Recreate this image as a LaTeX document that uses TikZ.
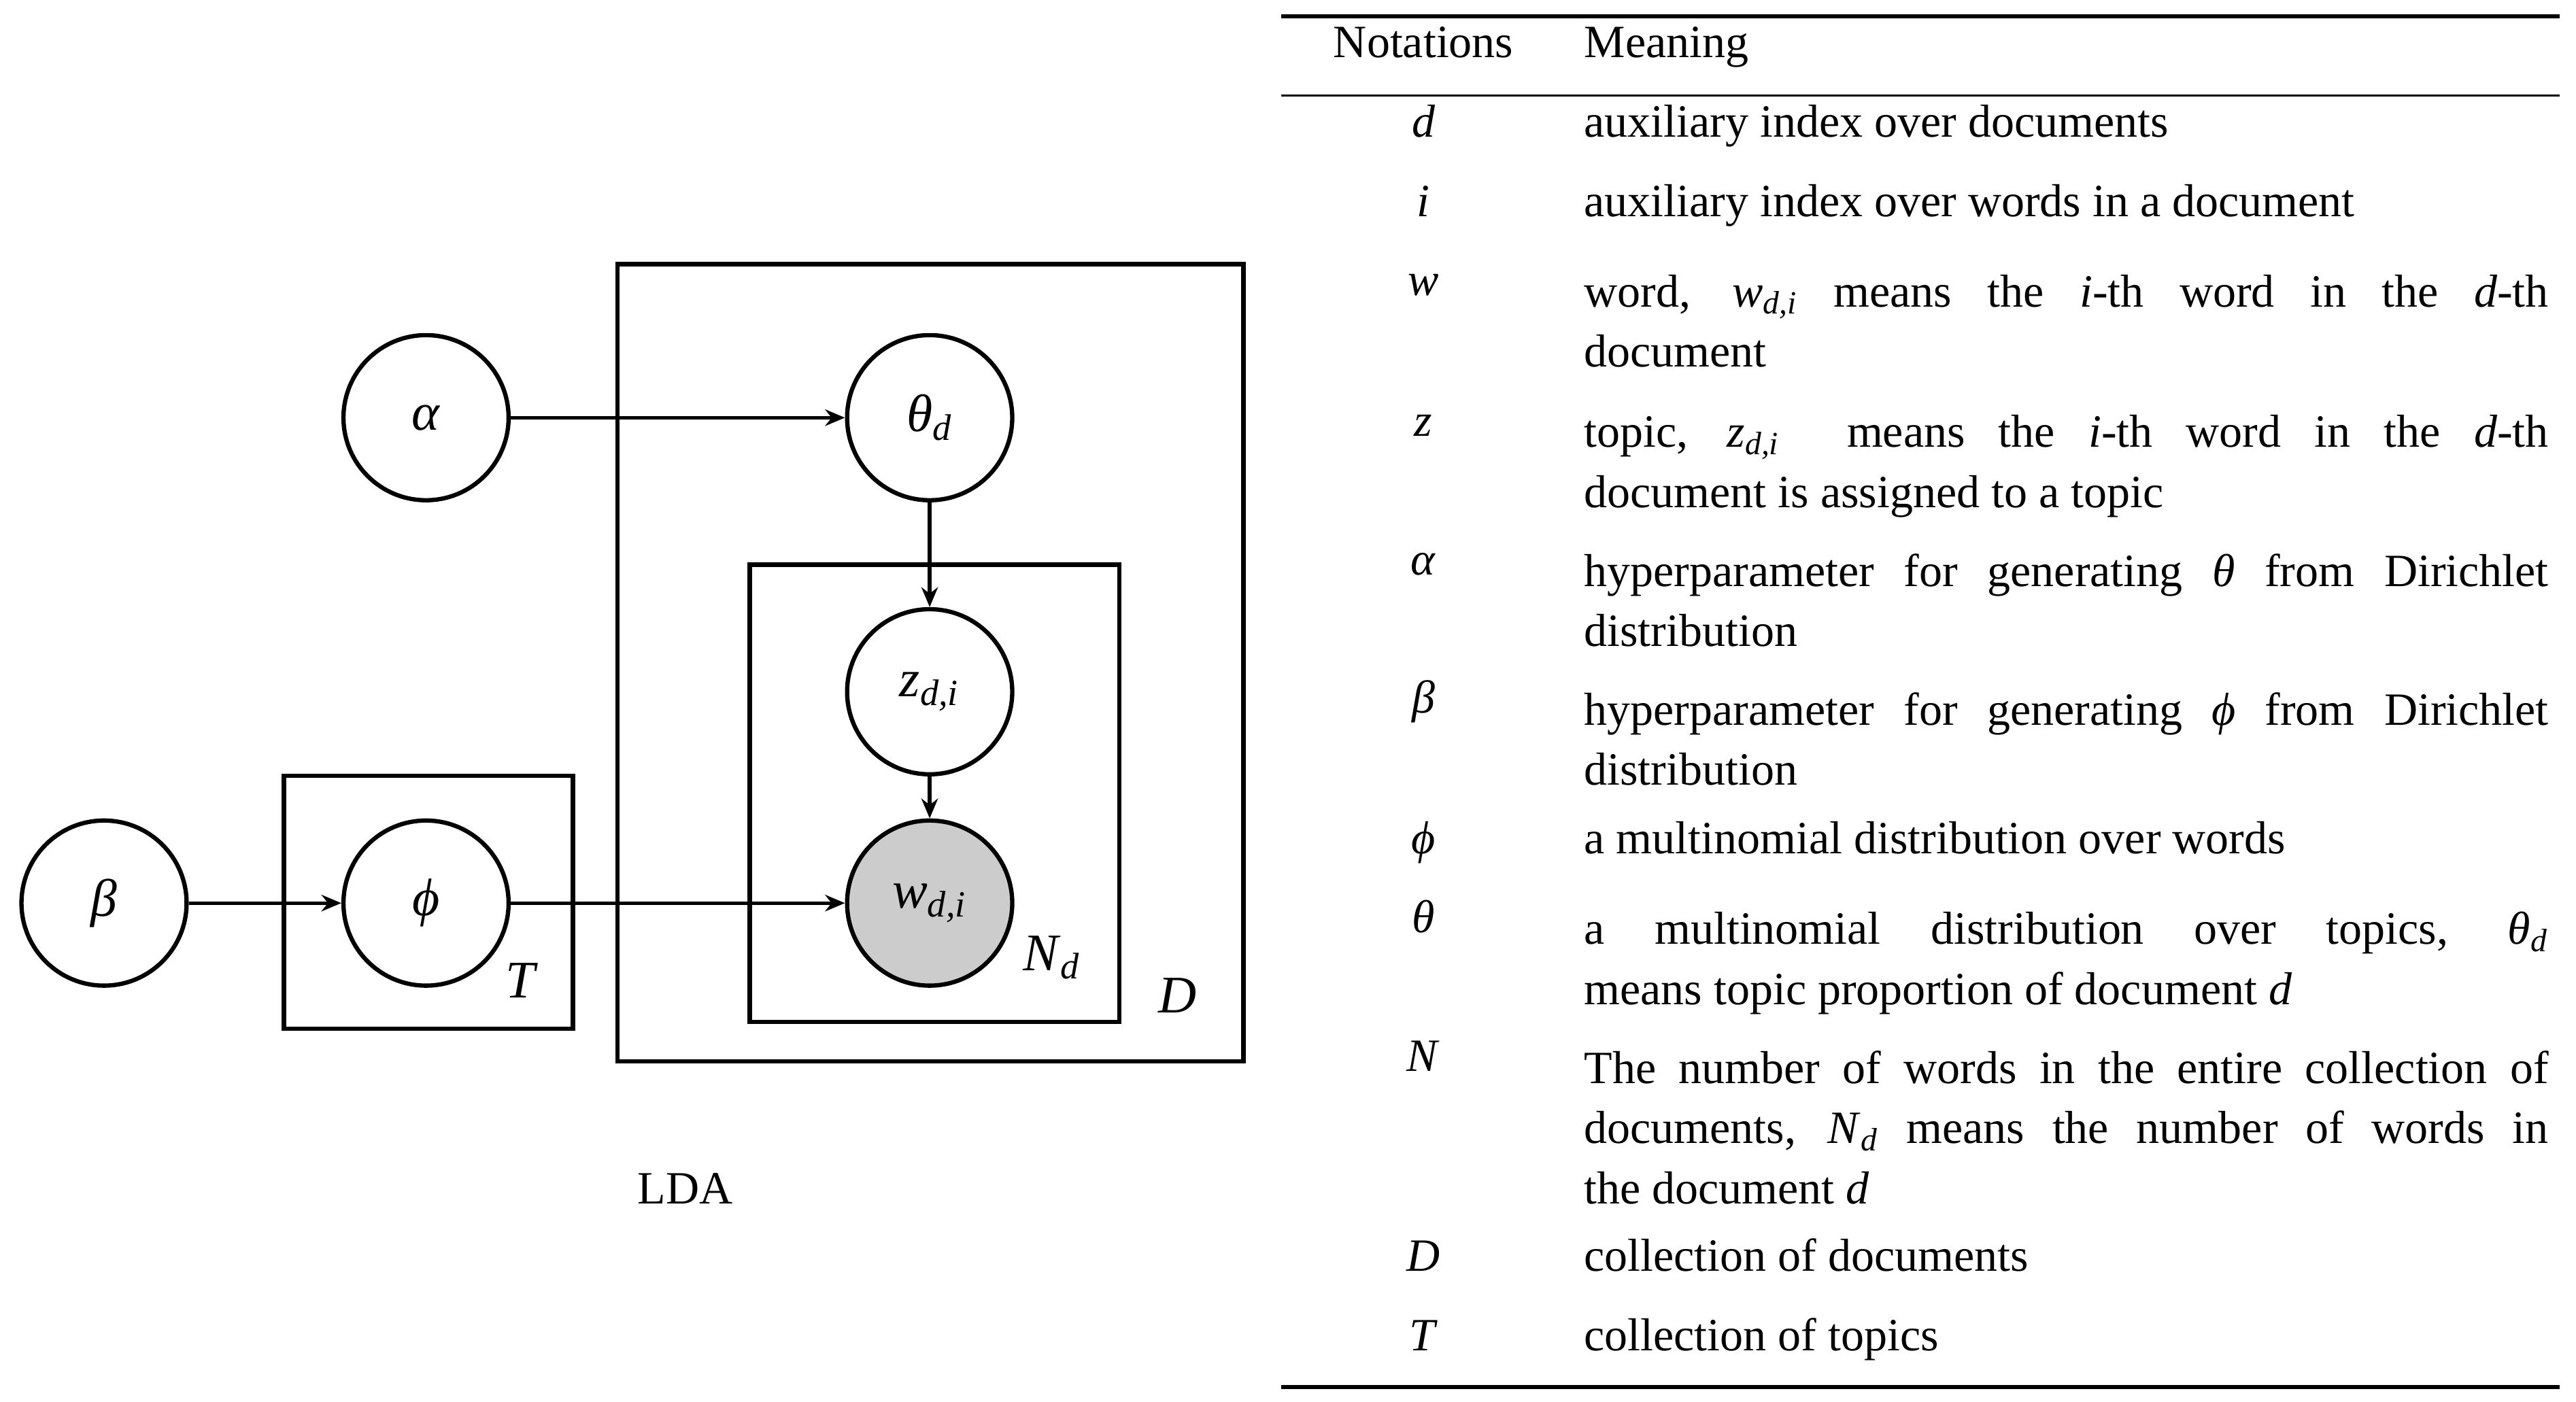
\documentclass[tikz,border=0pt]{standalone}
\usepackage{fontspec}
\setmainfont{Liberation Serif}
\usetikzlibrary{arrows.meta}
\newcommand{\mysub}[1]{\textsubscript{\textit{#1}}}
\begin{document}
\begin{tikzpicture}[x=0.5pt,y=-0.5pt,
  var/.style={circle,draw,line width=1.3pt,minimum size=50pt,inner sep=0pt,font=\fontsize{16}{18}\selectfont},
  plate/.style={draw,line width=1.3pt},
  arr/.style={line width=1.1pt,-{Stealth[length=6pt,width=5pt]}},
  tx/.style={font=\fontsize{14}{18.25}\selectfont,inner sep=0pt},
  c1/.style={tx,anchor=base},
  c2/.style={tx,anchor=north west,text width=292pt,align=justify}]
\useasboundingbox (0,0) rectangle (1560,849);
% plates
\draw[plate] (374,160) rectangle (753,643);
\draw[plate] (454,342) rectangle (678,619);
\draw[plate] (172,470) rectangle (347,623);
% nodes
\node[var] (al) at (258,253) {\textit{α}};
\node[var] (th) at (563,253) {\textit{θ}\mysub{d}};
\node[var] (z) at (563,419) {\textit{z}\mysub{d,i}};
\node[var,fill=black!20] (w) at (563,547) {\textit{w}\mysub{d,i}};
\node[var] (be) at (63,547) {\textit{β}};
\node[var] (ph) at (258,547) {\textit{ϕ}};
\draw[arr] (al) -- (th);
\draw[arr] (th) -- (z);
\draw[arr] (z) -- (w);
\draw[arr] (be) -- (ph);
\draw[arr] (ph) -- (w);
\node[font=\fontsize{16}{18}\selectfont] (lT) at (316,594) {\textit{T}};
\node[font=\fontsize{16}{18}\selectfont] (lN) at (637,580) {\textit{N}\mysub{d}};
\node[font=\fontsize{16}{18}\selectfont] (lD) at (713,603) {\textit{D}};
\node[tx] (lda) at (415,720) {LDA};
% table
\draw[line width=1.3pt] (776,10) -- (1550,10);
\draw[line width=0.6pt] (776,58) -- (1550,58);
\draw[line width=1.3pt] (776,840) -- (1550,840);
\node[c1] (h1) at (862,35) {Notations};
\node[tx,anchor=base west] (h2) at (959,35) {Meaning};
\def\rowtop#1{#1-13}
\node[c1] (r1) at (862,83) {\textit{d}};
\node[tx,anchor=base west] (m1) at (959,83) {auxiliary index over documents};
\node[c1] (r2) at (862,131) {\textit{i}};
\node[tx,anchor=base west] (m2) at (959,131) {auxiliary index over words in a document};
\node[c1] (r3) at (862,179) {\textit{w}};
\node[c2] (m3) at (959,166) {word, \textit{w}\mysub{d,i} means the \textit{i}-th word in the \textit{d}-th\linebreak document};
\node[c1] (r4) at (862,264) {\textit{z}};
\node[c2] (m4) at (959,251) {topic, \textit{z}\mysub{d,i}\ \ means the \textit{i}-th word in the \textit{d}-th\linebreak document is assigned to a topic};
\node[c1] (r5) at (862,348) {\textit{α}};
\node[c2] (m5) at (959,335) {hyperparameter for generating \textit{θ} from Dirichlet\linebreak distribution};
\node[c1] (r6) at (862,432) {\textit{β}};
\node[c2] (m6) at (959,419) {hyperparameter for generating \textit{ϕ} from Dirichlet\linebreak distribution};
\node[c1] (r7) at (862,517) {\textit{ϕ}};
\node[tx,anchor=base west] (m7) at (959,517) {a multinomial distribution over words};
\node[c1] (r8) at (862,565) {\textit{θ}};
\node[c2] (m8) at (959,552) {a multinomial distribution over topics, \textit{θ}\mysub{d}\linebreak means topic proportion of document \textit{d}};
\node[c1] (r9) at (862,649) {\textit{N}};
\node[c2] (m9) at (959,636) {The number of words in the entire collection of\linebreak documents, \textit{N}\mysub{d} means the number of words in\linebreak the document \textit{d}};
\node[c1] (r10) at (862,770) {\textit{D}};
\node[tx,anchor=base west] (m10) at (959,770) {collection of documents};
\node[c1] (r11) at (862,818) {\textit{T}};
\node[tx,anchor=base west] (m11) at (959,818) {collection of topics};
\end{tikzpicture}
\end{document}
